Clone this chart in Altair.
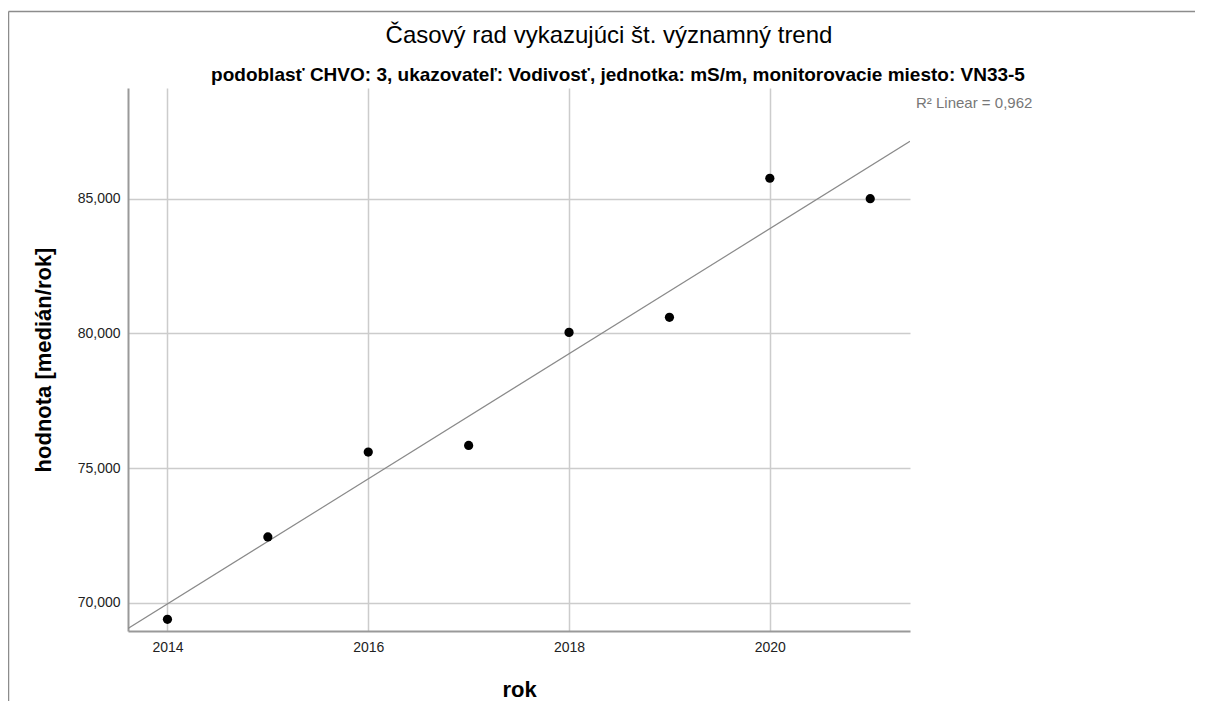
import altair as alt
import pandas as pd

# data
years = [2014, 2015, 2016, 2017, 2018, 2019, 2020, 2021]
values = [69.382, 72.444, 75.595, 75.841, 80.037, 80.595, 85.759, 85.000]
x_ticks = [2014, 2016, 2018, 2020]
y_ticks = [70, 75, 80, 85]
x_domain = [2013.607, 2021.396]
y_domain = [68.95, 89.11]
r2_text = ["R² Linear = 0,962"]

title_text = ["Časový rad vykazujúci št. významný trend"]
subtitle_text = ["podoblasť CHVO: 3, ukazovateľ: Vodivosť, jednotka: mS/m, monitorovacie miesto: VN33-5"]

df = pd.DataFrame({"rok": years, "hodnota": values})

FONT = "Liberation Sans"

x_enc = alt.X(
    "rok:Q",
    scale=alt.Scale(domain=x_domain, nice=False, zero=False),
    axis=alt.Axis(
        values=x_ticks, format="d", title="rok", grid=True,
        ticks=False, labelPadding=9, titlePadding=25,
        labelFontSize=14, titleFontSize=22, titleFontWeight="bold",
    ),
)
y_enc = alt.Y(
    "hodnota:Q",
    scale=alt.Scale(domain=y_domain, nice=False, zero=False),
    axis=alt.Axis(
        values=y_ticks, title="hodnota [medián/rok]", grid=True,
        labelExpr="replace(format(datum.value, '.3f'), '.', ',')",
        ticks=False, labelPadding=8, titlePadding=22,
        labelFontSize=14, titleFontSize=22, titleFontWeight="bold",
    ),
)

base = alt.Chart(df)

points = base.mark_circle(size=85, color="black", opacity=1).encode(x=x_enc, y=y_enc)

fit = base.transform_regression(
    "rok", "hodnota", extent=x_domain
).mark_line(color="#8a8a8a", strokeWidth=1.2, clip=True).encode(x=x_enc, y=y_enc)

r2 = alt.Chart(pd.DataFrame({"t": r2_text})).mark_text(
    align="left", baseline="middle", fontSize=15, color="#777777", font=FONT
).encode(x=alt.value(788), y=alt.value(15), text="t:N")

title_mark = alt.Chart(pd.DataFrame({"t": title_text})).mark_text(
    align="center", baseline="middle", fontSize=24, color="black", font=FONT
).encode(x=alt.value(481), y=alt.value(-52), text="t:N")

subtitle_mark = alt.Chart(pd.DataFrame({"t": subtitle_text})).mark_text(
    align="center", baseline="middle", fontSize=19, fontWeight="bold", color="black", font=FONT
).encode(x=alt.value(490), y=alt.value(-13), text="t:N")

frame_top = alt.Chart(pd.DataFrame({"a": [0]})).mark_rule(
    color="#8c8c8c", strokeWidth=1.5
).encode(x=alt.value(-119.5), x2=alt.value(1100), y=alt.value(-76.5))
frame_left = alt.Chart(pd.DataFrame({"a": [0]})).mark_rule(
    color="#8c8c8c", strokeWidth=1.5
).encode(x=alt.value(-119.5), y=alt.value(-76.5), y2=alt.value(700))

chart = alt.layer(
    frame_top, frame_left, fit, points, r2, title_mark, subtitle_mark
).properties(
    width=782,
    height=543,
    autosize=alt.AutoSizeParams(type="none"),
    padding={"left": 120, "top": 80, "right": 285, "bottom": 70},
).configure_view(stroke=None).configure_axis(
    domainColor="#999999",
    domainWidth=2,
    gridColor="#cccccc",
    gridWidth=1.5,
    labelColor="#222222",
    labelFont=FONT,
    titleFont=FONT,
    titleColor="black",
)

chart.save("out.html", embed_options={"renderer": "svg", "actions": False})
